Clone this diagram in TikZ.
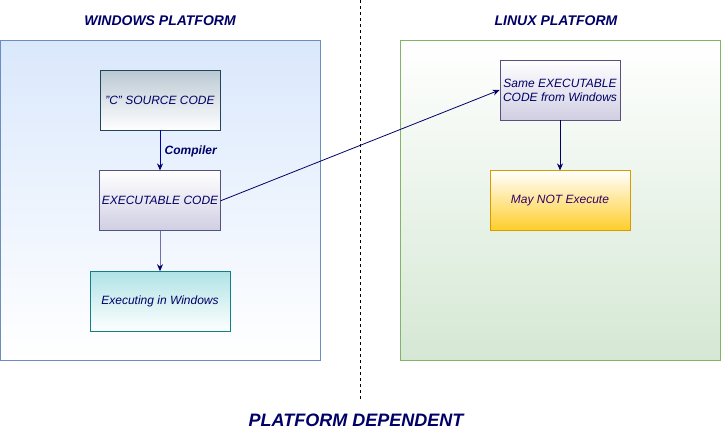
\documentclass[tikz,border=0pt]{standalone}
\usepackage{fontspec}
\setmainfont{Liberation Sans}
\usetikzlibrary{arrows.meta,positioning}
\definecolor{ink}{HTML}{000066}
\definecolor{mayink}{HTML}{330066}
\definecolor{winedge}{HTML}{6C8EBF}
\definecolor{winfill}{HTML}{DAE8FC}
\definecolor{linedge}{HTML}{82B366}
\definecolor{linfill}{HTML}{D5E8D4}
\definecolor{srcedge}{HTML}{23445D}
\definecolor{srcfill}{HTML}{BAC8D3}
\definecolor{exeedge}{HTML}{56517E}
\definecolor{exefill}{HTML}{D0CEE2}
\definecolor{runedge}{HTML}{0E8088}
\definecolor{runfill}{HTML}{B0E3E6}
\definecolor{mayedge}{HTML}{D79B00}
\definecolor{mayfill}{HTML}{FFCD28}
\definecolor{compblue}{HTML}{0000AA}
\definecolor{runline}{HTML}{7070B0}

\begin{document}
\begin{tikzpicture}[x=1pt, y=-1pt,
  every node/.style={font=\fontsize{12}{14}\selectfont\itshape, text=ink},
  panel/.style={rectangle, minimum width=320pt, minimum height=320pt, line width=0.8pt, inner sep=0pt},
  box/.style={rectangle, minimum width=120pt, minimum height=60pt, align=center, line width=0.8pt, inner sep=2pt},
  widebox/.style={box, minimum width=140pt},
  heading/.style={font=\fontsize{14}{16}\selectfont\bfseries\itshape},
  arrow/.style={-{Stealth[length=7pt,width=6pt,color=ink]}, line width=0.8pt, draw=ink},
  label/.style={font=\fontsize{12}{14}\selectfont\bfseries\itshape}
]
\useasboundingbox (0,0) rectangle (721,431);

% platforms
\node[panel, draw=winedge, top color=winfill, bottom color=white] (winpf) at (160,200) {};
\node[panel, draw=linedge, top color=white, bottom color=linfill] (linpf) at (560,200) {};
\node[heading] (wintitle) at (160,21) {WINDOWS PLATFORM};
\node[heading] (lintitle) at (556,21) {LINUX PLATFORM};

% divider
\coordinate (divtop) at (360,0);
\coordinate (divbot) at (360,400);
\draw[dash pattern=on 3pt off 3pt, line width=0.6pt] (divtop) -- (divbot);

% windows side
\node[box, draw=srcedge, top color=srcfill, bottom color=white] (src) at (160,100) {"C" SOURCE CODE};
\node[box, below=40pt of src, draw=exeedge, top color=white, bottom color=exefill] (exe) {EXECUTABLE CODE};
\node[widebox, below=40pt of exe, draw=runedge, top color=runfill, bottom color=white] (run) {Executing in Windows};

% linux side
\node[box, draw=exeedge, top color=white, bottom color=exefill] (same) at (560,90) {Same EXECUTABLE\\CODE from Windows};
\node[widebox, below=50pt of same, draw=mayedge, top color=white, bottom color=mayfill, text=mayink] (maynot) {May NOT Execute};

\node[heading, font=\fontsize{18}{20}\selectfont\bfseries\itshape] (verdict) at (356,420) {PLATFORM DEPENDENT};

\draw[arrow, draw=compblue] (src) -- node[label, right=1pt, yshift=-1pt] {Compiler} (exe);
\draw[arrow, draw=runline] (exe) -- (run);
\draw[arrow] (exe.east) -- (same.west);
\draw[arrow] (same) -- (maynot);
\end{tikzpicture}
\end{document}
